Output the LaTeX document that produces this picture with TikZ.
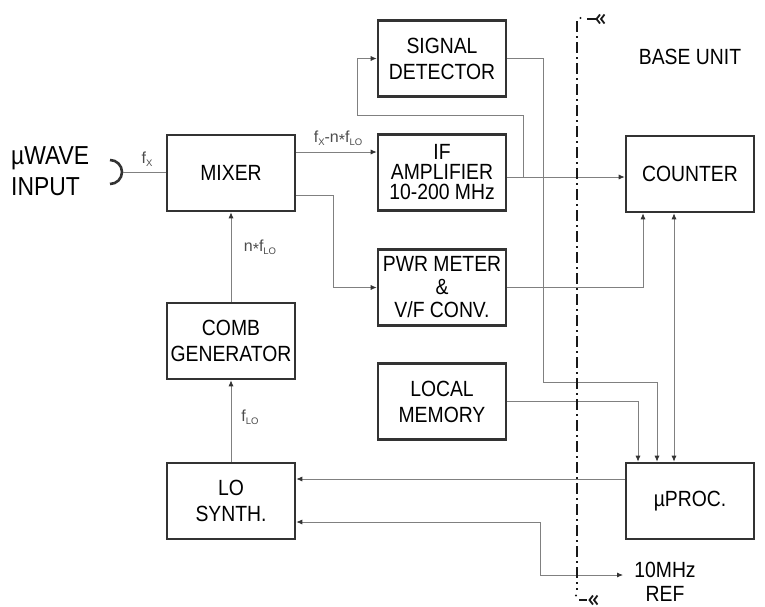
\documentclass[tikz,border=0pt]{standalone}
\usepackage{fontspec}
\setmainfont{Liberation Sans}[FakeStretch=0.88]
\newfontfamily\lblfont{Liberation Sans}
\usetikzlibrary{arrows.meta}
\newcommand\sbs[1]{\raisebox{-3pt}{\fontsize{9.5}{9.5}\selectfont #1}}
\newcommand\mstar{\raisebox{-3pt}{*}}
\begin{document}
\begin{tikzpicture}[x=1pt,y=-1pt,
  blk/.style={draw=black!80,line width=2.6pt,minimum width=128pt,minimum height=76pt,inner sep=0pt,align=center,font=\fontsize{22}{26}\selectfont},
  conn/.style={draw=black!50,line width=0.8pt},
  >={Latex[length=6pt,width=5pt,color=black!80]},
  lbl/.style={inner sep=0pt,text=black!70,font=\lblfont\fontsize{16}{18}\selectfont},
  txt/.style={inner sep=0pt,align=center,font=\fontsize{22}{23.5}\selectfont},
  divider/.style={draw=black!90,line width=2pt,dash pattern=on 11pt off 4pt on 2pt off 4pt},
  brk/.style={draw=black!90,line width=2pt},
  chev/.style={draw=black!90,line width=1.8pt,line join=miter}
]
\useasboundingbox (0,0) rectangle (765,606);

% blocks
\node[blk] (mixer) at (231,173) {MIXER};
\node[blk] (sigdet) at (442,58.5) {SIGNAL\\DETECTOR};
\node[blk,font=\fontsize{22}{20}\selectfont] (ifamp) at (442,172.5) {IF\\AMPLIFIER\\10-200 MHz};
\node[blk] (counter) at (690,174) {COUNTER};
\node[blk,font=\fontsize{22}{23}\selectfont] (pwr) at (442,287.5) {PWR METER\\\&\\V/F CONV.};
\node[blk] (lmem) at (442,401.5) {LOCAL\\MEMORY};
\node[blk] (comb) at (231,341) {COMB\\GENERATOR};
\node[blk] (lo) at (231,501) {LO\\SYNTH.};
\node[blk] (uproc) at (690,501) {µPROC.};

% texts
\node[txt,anchor=west,align=left,font=\fontsize{26}{31}\selectfont] (inputtxt) at (11,171) {µWAVE\\INPUT};
\node[txt] (base) at (690,57) {BASE UNIT};
\node[txt] (reftxt) at (665,582) {10MHz\\REF};

% helper coordinates
\coordinate (inp) at (123,172);
\coordinate (x333) at (333,0);
\coordinate (x357) at (357,0);
\coordinate (x523) at (523,0);
\coordinate (x540) at (540,0);
\coordinate (x543) at (543,0);
\coordinate (x638) at (638,0);
\coordinate (x643) at (643,0);
\coordinate (x657) at (657,0);
\coordinate (x674) at (674,0);
\coordinate (y115) at (0,115);
\coordinate (y152) at (0,152);
\coordinate (y177) at (0,177);
\coordinate (y195) at (0,195);
\coordinate (y382) at (0,382);
\coordinate (y479) at (0,479);
\coordinate (y522) at (0,522);
\coordinate (y575) at (0,575);
\coordinate (refend) at (623,575);

% input bracket
\draw[black!80,line width=2.6pt] (110,160) arc[start angle=-90,end angle=90,radius=12];
\draw[conn] (inp) -- (mixer.west |- inp);

% connectors
\draw[conn,->] (mixer.east |- y152) -- (ifamp.west |- y152);
\draw[conn,->] (mixer.east |- y195) -| (x333 |- pwr.west) -- (pwr.west);
\draw[conn,->] (comb.north) -- (mixer.south);
\draw[conn,->] (lo.north) -- (comb.south);
\draw[conn,->] (ifamp.east |- y177) -- (counter.west |- y177);
\draw[conn,->] (x523 |- y177) -- (x523 |- y115) -| (x357 |- sigdet.west) -- (sigdet.west);
\draw[conn,->] (sigdet.east) -| (x543 |- y382) -| (uproc.north -| x657);
\draw[conn,->] (lmem.east) -| (uproc.north -| x638);
\draw[conn,->] (pwr.east) -| (counter.south -| x643);
\draw[conn,<->] (counter.south -| x674) -- (uproc.north -| x674);
\draw[conn,->] (uproc.west |- y479) -- (lo.east |- y479);
\draw[conn,<->] (lo.east |- y522) -| (x540 |- y575) -- (refend);

% labels
\node[lbl] (lfx) at (147,159) {f\sbs{X}};
\node[lbl] (lfmix) at (338,138) {f\sbs{X}-n\mstar f\sbs{LO}};
\node[lbl] (lnf) at (260,247) {n\mstar f\sbs{LO}};
\node[lbl] (lflo) at (250,417) {f\sbs{LO}};

% base unit divider
\draw[divider] (577,21) -- (577,590);
% top break mark
\fill[black!90] (580.5,18) circle (1.1);
\draw[brk] (587,19) -- (596,19);
\draw[chev] (600,14.5) -- (596.5,19) -- (600,23.5);
\draw[chev] (604.5,14.5) -- (601,19) -- (604.5,23.5);
% bottom break mark
\fill[black!90] (576,595.5) circle (1.1);
\draw[brk] (579,600) -- (587,600);
\draw[chev] (593,595.5) -- (589.5,600) -- (593,604.5);
\draw[chev] (597.5,595.5) -- (594,600) -- (597.5,604.5);
\end{tikzpicture}
\end{document}
